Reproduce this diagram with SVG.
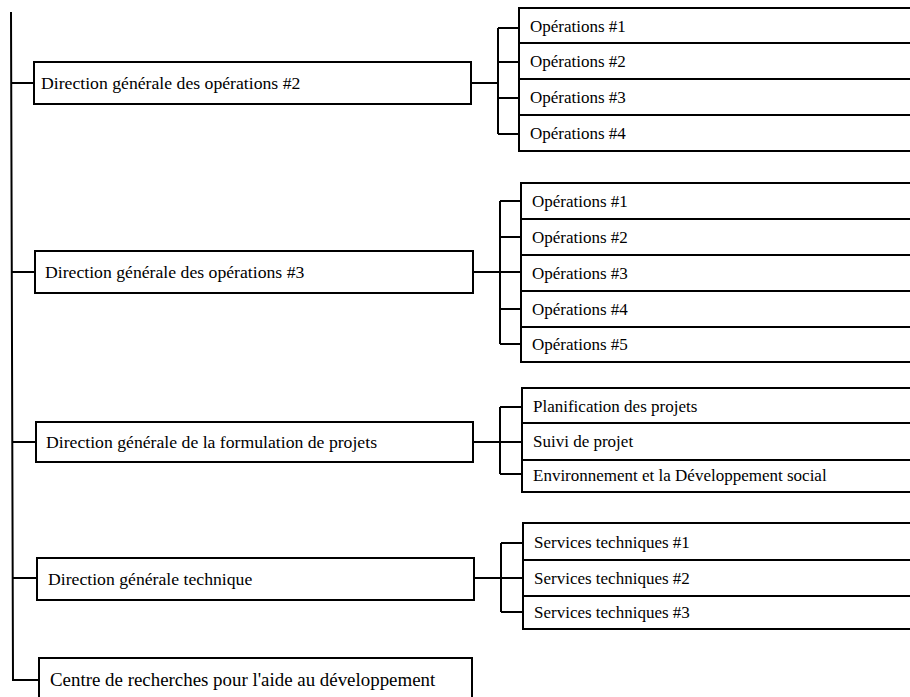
<svg xmlns="http://www.w3.org/2000/svg" width="910" height="697" viewBox="0 0 910 697">
<style>
.box{fill:#fff;stroke:#000;stroke-width:2}
.lbl{font-family:"Liberation Serif","Times New Roman",serif;font-size:17px;fill:#000}
.dg{font-size:17.7px}
.big{font-size:18.9px}
.conn{fill:none;stroke:#000;stroke-width:2}
</style>
<rect width="910" height="697" fill="#fff"/>
<g id="connectors" class="conn">
<path d="M11,12 L13,680 L39,680"/>
<path d="M11,83 H34"/>
<path d="M12,272 H35"/>
<path d="M12,442 H36"/>
<path d="M13,578 H37"/>
<path d="M471,83 H498"/>
<path d="M498,28 V134"/>
<path d="M498,28 H519 M498,62 H519 M498,98 H519 M498,134 H519"/>
<path d="M473,272 H521"/>
<path d="M500,201 V344"/>
<path d="M500,201 H521 M500,237 H521 M500,309 H521 M500,344 H521"/>
<path d="M473,442 H522"/>
<path d="M500,407 V474"/>
<path d="M500,407 H522 M500,474 H522"/>
<path d="M474,578 H523"/>
<path d="M501,543 V612"/>
<path d="M501,543 H523 M501,612 H523"/>
</g>
<g id="dg2"><rect class="box" x="34" y="62" width="437" height="42"/><text class="lbl dg" x="41" y="89">Direction générale des opérations #2</text></g>
<g id="dg2-op1"><rect class="box" x="519" y="8" width="400" height="35"/><text class="lbl" x="530" y="32">Opérations #1</text></g>
<g id="dg2-op2"><rect class="box" x="519" y="43" width="400" height="36"/><text class="lbl" x="530" y="67">Opérations #2</text></g>
<g id="dg2-op3"><rect class="box" x="519" y="79" width="400" height="36"/><text class="lbl" x="530" y="103">Opérations #3</text></g>
<g id="dg2-op4"><rect class="box" x="519" y="115" width="400" height="36"/><text class="lbl" x="530" y="139">Opérations #4</text></g>
<g id="dg3"><rect class="box" x="35" y="251" width="438" height="42"/><text class="lbl dg" x="45" y="278">Direction générale des opérations #3</text></g>
<g id="dg3-op1"><rect class="box" x="521" y="183" width="400" height="36"/><text class="lbl" x="532" y="207">Opérations #1</text></g>
<g id="dg3-op2"><rect class="box" x="521" y="219" width="400" height="36"/><text class="lbl" x="532" y="243">Opérations #2</text></g>
<g id="dg3-op3"><rect class="box" x="521" y="255" width="400" height="36"/><text class="lbl" x="532" y="279">Opérations #3</text></g>
<g id="dg3-op4"><rect class="box" x="521" y="291" width="400" height="36"/><text class="lbl" x="532" y="315">Opérations #4</text></g>
<g id="dg3-op5"><rect class="box" x="521" y="327" width="400" height="35"/><text class="lbl" x="532" y="350">Opérations #5</text></g>
<g id="dgf"><rect class="box" x="36" y="422" width="437" height="40"/><text class="lbl dg" x="46" y="448">Direction générale de la formulation de projets</text></g>
<g id="dgf-plan"><rect class="box" x="522" y="388" width="400" height="35"/><text class="lbl" x="533" y="412">Planification des projets</text></g>
<g id="dgf-suivi"><rect class="box" x="522" y="423" width="400" height="37"/><text class="lbl" x="533" y="447">Suivi de projet</text></g>
<g id="dgf-env"><rect class="box" x="522" y="460" width="400" height="32"/><text class="lbl" x="533" y="481">Environnement et la Développement social</text></g>
<g id="dgt"><rect class="box" x="37" y="558" width="437" height="42"/><text class="lbl dg" x="48" y="585">Direction générale technique</text></g>
<g id="dgt-st1"><rect class="box" x="523" y="523" width="400" height="37"/><text class="lbl" x="534" y="548">Services techniques #1</text></g>
<g id="dgt-st2"><rect class="box" x="523" y="560" width="400" height="36"/><text class="lbl" x="534" y="584">Services techniques #2</text></g>
<g id="dgt-st3"><rect class="box" x="523" y="596" width="400" height="33"/><text class="lbl" x="534" y="618">Services techniques #3</text></g>
<g id="crad"><rect class="box" x="39" y="658" width="433" height="50"/><text class="lbl big" x="50" y="686">Centre de recherches pour l'aide au développement</text></g>
</svg>
